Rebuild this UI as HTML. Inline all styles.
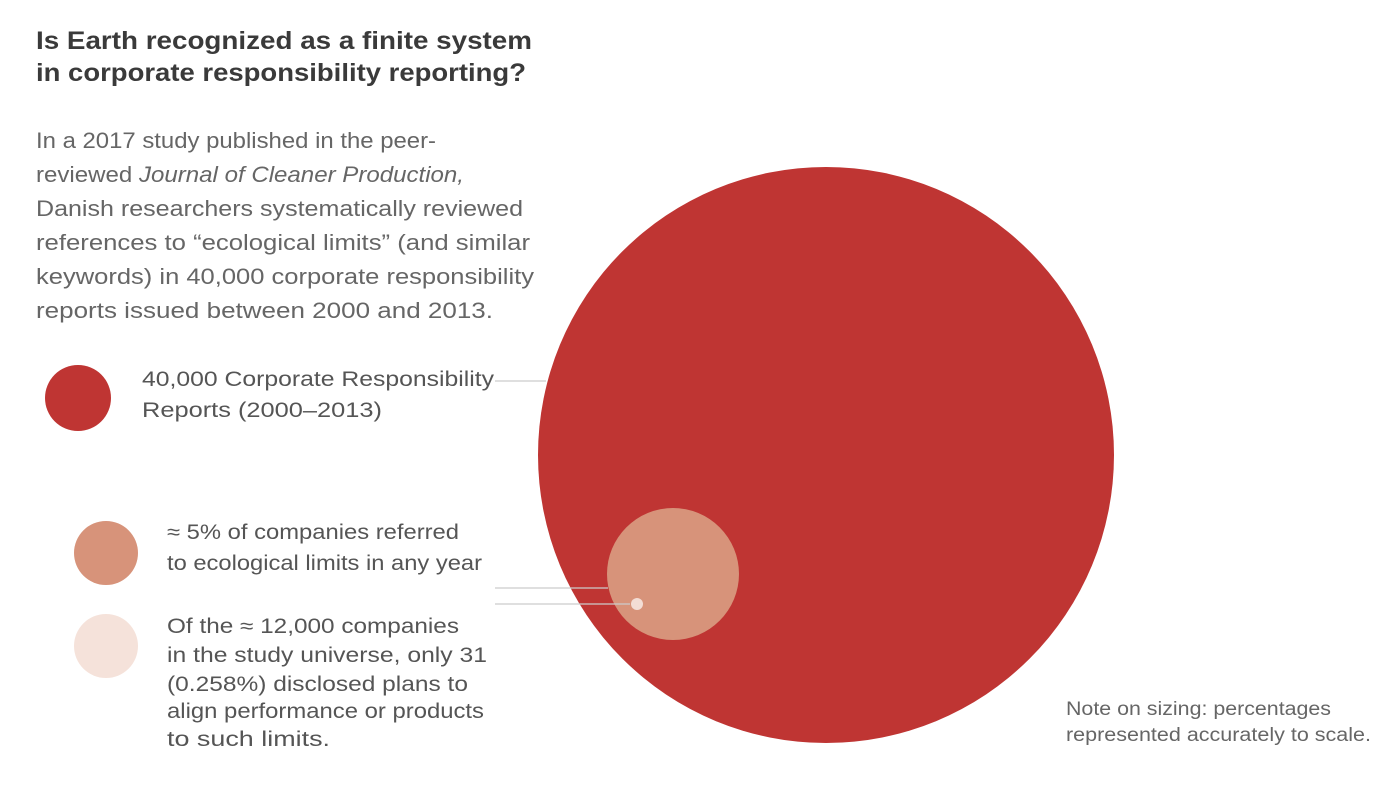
<!DOCTYPE html>
<html><head><meta charset="utf-8"><style>
html,body{margin:0;padding:0;background:#fff;}
svg{display:block;font-family:"Liberation Sans",sans-serif;}
</style></head><body>
<svg width="1400" height="805" viewBox="0 0 1400 805">
<g fill="#3a3a3a" font-weight="bold" font-size="25">
<text x="36" y="49" textLength="496" lengthAdjust="spacingAndGlyphs">Is Earth recognized as a finite system</text>
<text x="36" y="81" textLength="490" lengthAdjust="spacingAndGlyphs">in corporate responsibility reporting?</text>
</g>
<g fill="#666" font-size="22">
<text x="36" y="148" textLength="400" lengthAdjust="spacingAndGlyphs">In a 2017 study published in the peer-</text>
<text x="36" y="182" textLength="428" lengthAdjust="spacingAndGlyphs">reviewed <tspan font-style="italic">Journal of Cleaner Production,</tspan></text>
<text x="36" y="216" textLength="487" lengthAdjust="spacingAndGlyphs">Danish researchers systematically reviewed</text>
<text x="36" y="250" textLength="494" lengthAdjust="spacingAndGlyphs">references to “ecological limits” (and similar</text>
<text x="36" y="284" textLength="498" lengthAdjust="spacingAndGlyphs">keywords) in 40,000 corporate responsibility</text>
<text x="36" y="318" textLength="457" lengthAdjust="spacingAndGlyphs">reports issued between 2000 and 2013.</text>
</g>
<circle cx="826" cy="455" r="288" fill="#bf3533"/>
<circle cx="673" cy="574" r="66" fill="#d7937a"/>
<circle cx="637" cy="604" r="6" fill="#f3ddd5"/>
<g stroke="#ccc" stroke-width="1.2">
<line x1="495" y1="381" x2="546" y2="381"/>
<line x1="495" y1="588" x2="608" y2="588"/>
<line x1="495" y1="604" x2="630" y2="604"/>
</g>
<circle cx="78" cy="398" r="33" fill="#bf3533"/>
<circle cx="106" cy="553" r="32" fill="#d7937a"/>
<circle cx="106" cy="646" r="32" fill="#f5e2da"/>
<g fill="#555" font-size="21">
<text x="142" y="386" textLength="352" lengthAdjust="spacingAndGlyphs">40,000 Corporate Responsibility</text>
<text x="142" y="417" textLength="240" lengthAdjust="spacingAndGlyphs">Reports (2000–2013)</text>
<text x="167" y="539" textLength="292" lengthAdjust="spacingAndGlyphs">≈ 5% of companies referred</text>
<text x="167" y="570" textLength="315" lengthAdjust="spacingAndGlyphs">to ecological limits in any year</text>
<text x="167" y="633" textLength="292" lengthAdjust="spacingAndGlyphs">Of the ≈ 12,000 companies</text>
<text x="167" y="662" textLength="320" lengthAdjust="spacingAndGlyphs">in the study universe, only 31</text>
<text x="167" y="691" textLength="301" lengthAdjust="spacingAndGlyphs">(0.258%) disclosed plans to</text>
<text x="167" y="718" textLength="317" lengthAdjust="spacingAndGlyphs">align performance or products</text>
<text x="167" y="746" textLength="163" lengthAdjust="spacingAndGlyphs">to such limits.</text>
</g>
<g fill="#666" font-size="19">
<text x="1066" y="715" textLength="265" lengthAdjust="spacingAndGlyphs">Note on sizing: percentages</text>
<text x="1066" y="741" textLength="305" lengthAdjust="spacingAndGlyphs">represented accurately to scale.</text>
</g>
</svg>
</body></html>
